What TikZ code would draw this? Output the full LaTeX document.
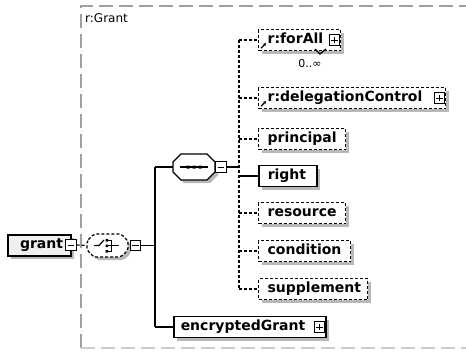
\documentclass[tikz,border=0pt]{standalone}
\usepackage{fontspec}
\setmainfont{DejaVu Sans}
\usetikzlibrary{shadows,calc,arrows.meta}
\begin{document}
\begin{tikzpicture}[x=1pt,y=-1pt,
  conn/.style={line width=1.4pt},
  opt/.style={line width=1.2pt, dash pattern=on 3pt off 2pt},
  shad/.style={drop shadow={shadow xshift=3pt,shadow yshift=-3pt,fill=gray!55,opacity=1}},
  elem/.style={shad, draw, fill=white, anchor=west,
    font=\bfseries\fontsize{14}{15}\selectfont, inner xsep=9pt, inner ysep=0pt,
    minimum height=21pt, text height=10pt, text depth=3pt, text width=#1, align=left},
  optelem/.style={elem=#1, line width=1.3pt, dash pattern=on 3pt off 2pt},
  reqelem/.style={elem=#1, line width=1.5pt},
  rootelem/.style={elem=#1, line width=2pt, fill=gray!12, inner xsep=12pt},
  sbox/.style={draw, fill=white, line width=1pt, minimum size=10.5pt, inner sep=0pt},
  minus/.style={sbox, path picture={\draw[line width=1pt]
     ([xshift=2pt]path picture bounding box.west) -- ([xshift=-2pt]path picture bounding box.east);}},
  plus/.style={sbox, path picture={\draw[line width=1pt]
     ([xshift=2pt]path picture bounding box.west) -- ([xshift=-2pt]path picture bounding box.east)
     ([yshift=-2pt]path picture bounding box.north) -- ([yshift=2pt]path picture bounding box.south);}},
  refarrow/.style={line width=1.2pt, -{Stealth[length=3pt,width=3.5pt]}},
  border/.style={line width=1.1pt, dash pattern=on 14pt off 6pt},
  comp/.style={minimum width=42pt, inner sep=0pt}
]
\useasboundingbox (0,0) rectangle (466,351);

% outer group border
\draw[border, gray!75] (81,348) -- (81,6) -- (466,6);
\draw[border, gray!40] (81,348) -- (466,348);
\node[anchor=west, font=\fontsize{12}{14}\selectfont, inner sep=0pt] (gname) at (85,18) {r:Grant};

% trunk coordinates
\coordinate (t1) at (155,0);
\coordinate (t2) at (239,0);

% compositor placeholders
\node[comp, minimum height=23pt] (choice) at (107.5,245.5) {};
\node[comp, minimum height=26pt] (seq) at (194,167) {};

% children
\node[optelem=64pt] (forall) at (258,40) {r:forAll};
\node[optelem=169pt] (deleg) at (258,98) {r:delegationControl};
\node[optelem=69pt] (princ) at (258,139) {principal};
\node[reqelem=40pt] (right) at (258,176) {right};
\node[optelem=69pt] (res) at (258,213) {resource};
\node[optelem=74pt] (cond) at (258,251) {condition};
\node[optelem=91pt] (supp) at (258,289) {supplement};
\node[reqelem=138pt, inner xsep=7pt] (enc) at (173,327) {encryptedGrant};
\node[rootelem=39pt] (grant) at (7,245) {grant};

% connectors
\draw[conn] (t1 |- seq.west) -- (t1 |- enc.west);
\draw[conn] (t1 |- seq.west) -- (seq.west);
\draw[conn] (t1 |- enc.west) -- (enc.west);
\draw[opt] (t2 |- forall.west) -- (t2 |- supp.west);
\foreach \c in {forall,deleg,princ,res,cond,supp}
  \draw[opt] (t2 |- \c.west) -- (\c.west);
\draw[line width=2.2pt] (t2 |- right.west) -- (right.west);

% choice compositor
\fill[gray!55, rounded corners=2pt, transform canvas={xshift=3pt,yshift=-3pt}]
  (87,241) -- (94,234) -- (121,234) -- (128,241) -- (128,250) -- (121,257) -- (94,257) -- (87,250) -- cycle;
\draw[opt, fill=white, rounded corners=2pt]
  (87,241) -- (94,234) -- (121,234) -- (128,241) -- (128,250) -- (121,257) -- (94,257) -- (87,250) -- cycle;
\draw[line width=1.2pt] (94,245.5) -- (99,245.5) -- (104,240);
\fill (105.5,239) rectangle (108,241.5) (105.5,244.5) rectangle (108,247) (105.5,250) rectangle (108,252.5);
\draw[line width=1.2pt] (108,240.2) -- (111.5,240.2) -- (111.5,251.2) -- (108,251.2) (108,245.7) -- (119,245.7);

% sequence compositor
\fill[gray!55, transform canvas={xshift=3pt,yshift=-3pt}]
  (173,162) -- (181,154) -- (207,154) -- (215,162) -- (215,172) -- (207,180) -- (181,180) -- (173,172) -- cycle;
\draw[line width=1.3pt, fill=white]
  (173,162) -- (181,154) -- (207,154) -- (215,162) -- (215,172) -- (207,180) -- (181,180) -- (173,172) -- cycle;
\draw[line width=1.4pt] (180,167) -- (208,167);
\fill (186.5,165.5) rectangle (189.5,168.5) (192.5,165.5) rectangle (195.5,168.5) (198.5,165.5) rectangle (201.5,168.5);

% expand/collapse boxes
\node[minus] (gminus) at ([xshift=-1pt]grant.east) {};
\node[minus, anchor=west] (cminus) at ([xshift=1pt]choice.east) {};
\node[minus, anchor=west] (sminus) at (seq.east) {};
\node[plus] (fplus) at ([xshift=-7pt]forall.east) {};
\node[plus] (dplus) at ([xshift=-7pt]deleg.east) {};
\node[plus] (eplus) at ([xshift=-7pt]enc.east) {};

\draw[opt] (gminus.east) -- (choice.west);
\draw[conn] (cminus.east) -- (t1 |- cminus.east);
\draw[conn] (sminus.east) -- (t2 |- sminus.east);

% reference arrows
\draw[refarrow] ([xshift=3pt,yshift=3pt]forall.south west) -- ++(5,-5);
\draw[refarrow] ([xshift=3pt,yshift=3pt]deleg.south west) -- ++(5,-5);

% occurrence
\draw[line width=1.3pt] (315,49) -- (320,54) -- (326,49);
\node[font=\fontsize{11}{13}\selectfont, inner sep=0pt] (occ) at (310,63) {0..∞};
\end{tikzpicture}
\end{document}
